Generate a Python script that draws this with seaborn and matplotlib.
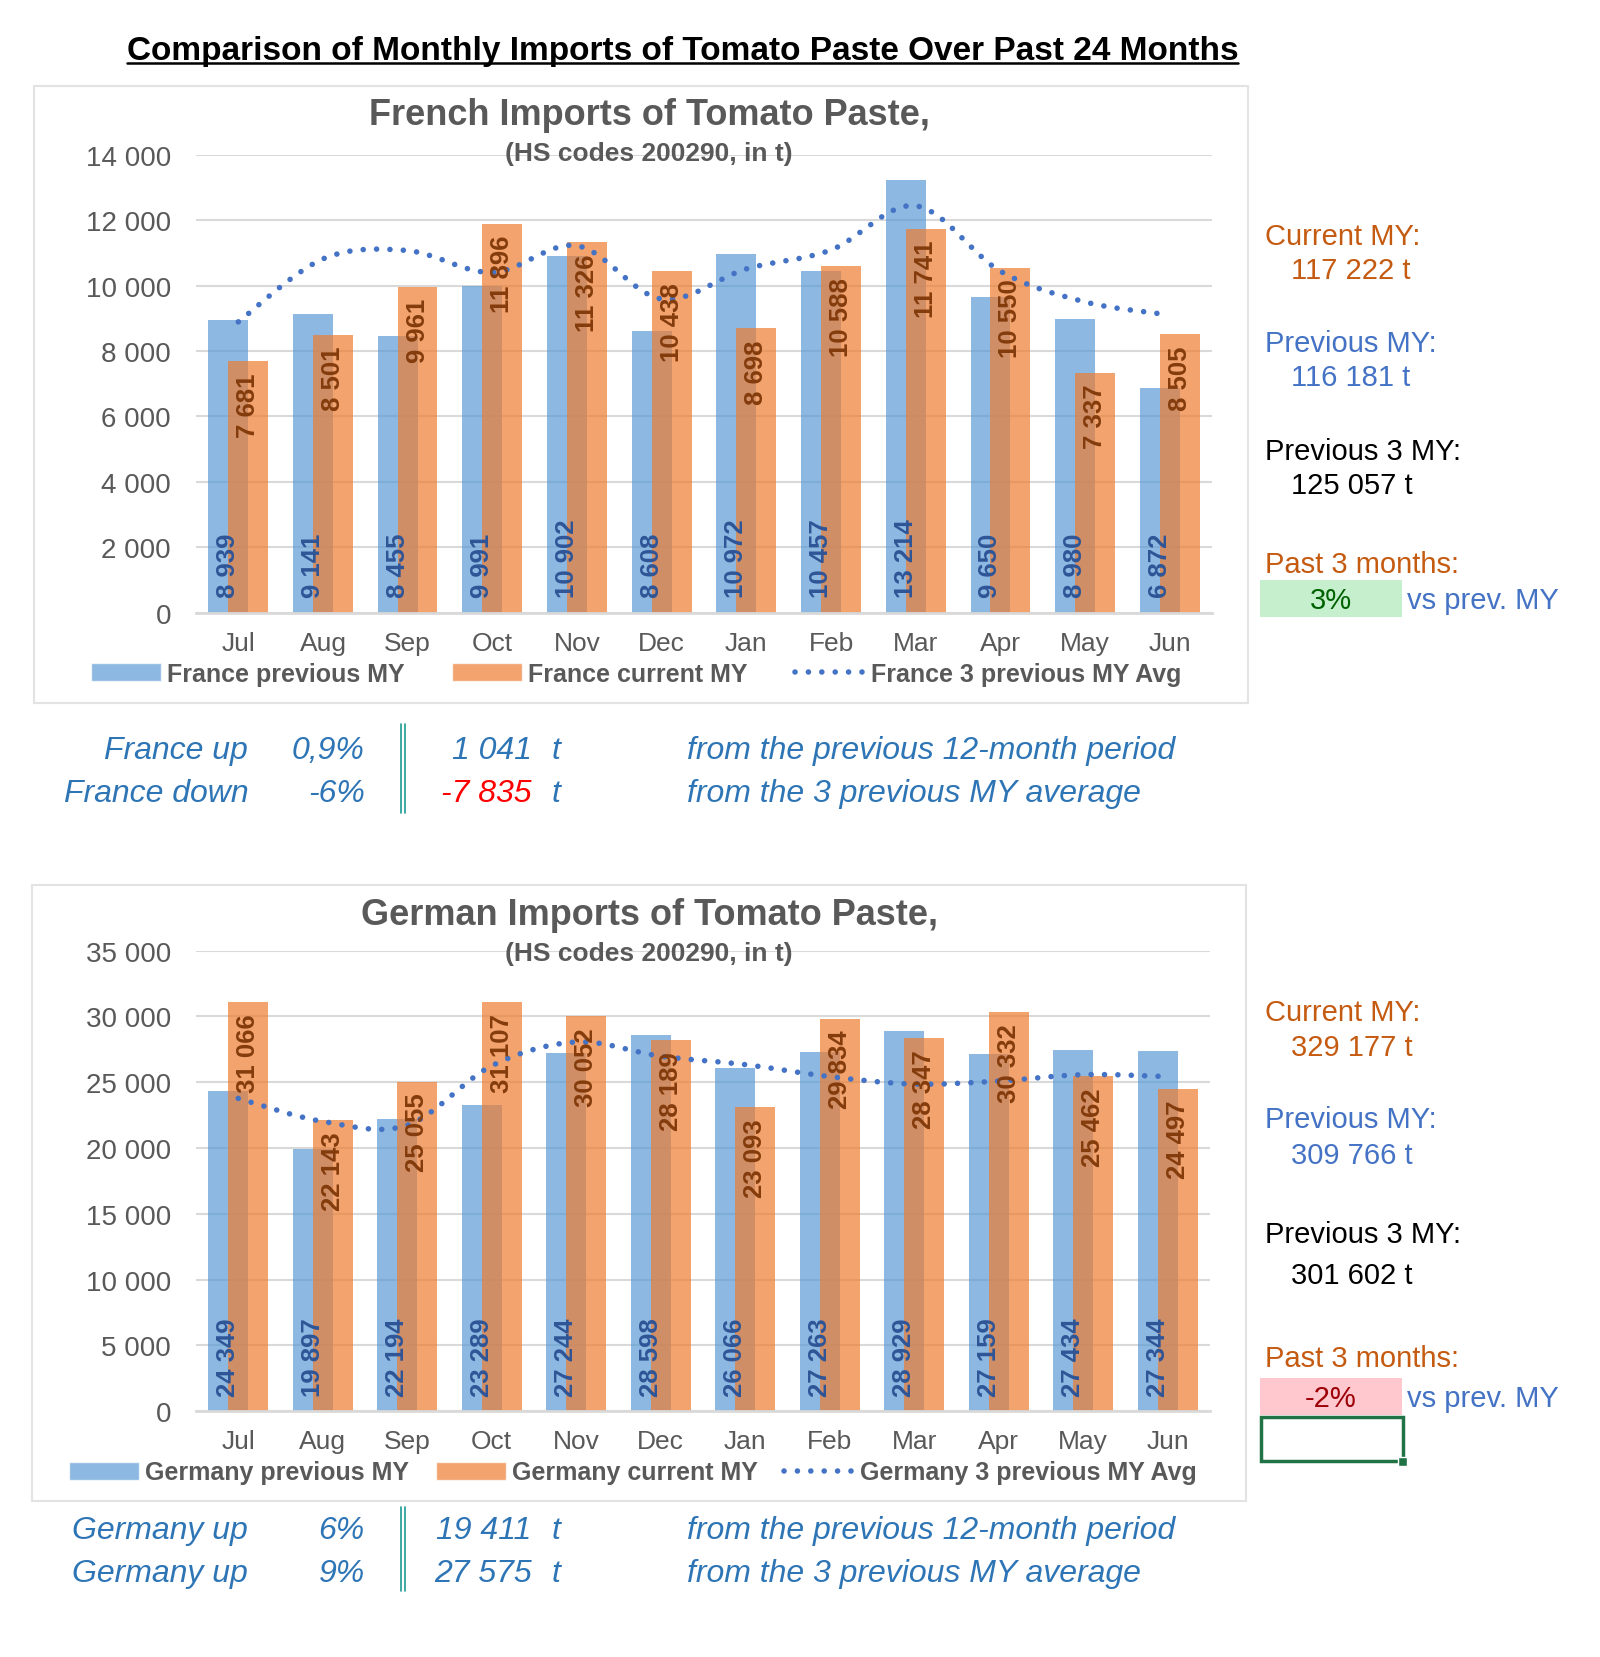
import numpy as np
import pandas as pd
import matplotlib.pyplot as plt
import seaborn as sns
from matplotlib.path import Path
from matplotlib.patches import PathPatch, Rectangle, Patch
from matplotlib.lines import Line2D

months = ['Jul', 'Aug', 'Sep', 'Oct', 'Nov', 'Dec', 'Jan', 'Feb', 'Mar', 'Apr', 'May', 'Jun']

# France, t
fr_prev = [8939, 9141, 8455, 9991, 10902, 8608, 10972, 10457, 13214, 9650, 8980, 6872]
fr_curr = [7681, 8501, 9961, 11896, 11326, 10438, 8698, 10588, 11741, 10550, 7337, 8505]
fr_avg3 = [8890, 10816, 11071, 10400, 11220, 9590, 10510, 11090, 12440, 10440, 9500, 9100]

# Germany, t
de_prev = [24349, 19897, 22194, 23289, 27244, 28598, 26066, 27263, 28929, 27159, 27434, 27344]
de_curr = [31066, 22143, 25055, 31107, 30052, 28189, 23093, 29834, 28347, 30332, 25462, 24497]
de_avg3 = [23770, 22020, 21730, 26250, 28060, 26980, 26340, 25430, 24860, 25090, 25580, 25430]

# side summaries
fr_side = ['117 222 t', '116 181 t', '125 057 t', '3%']
de_side = ['329 177 t', '309 766 t', '301 602 t', '-2%']
fr_notes = [('France up', '0,9%', '1 041', 'from the previous 12-month period'),
            ('France down', '-6%', '-7 835', 'from the 3 previous MY average')]
de_notes = [('Germany up', '6%', '19 411', 'from the previous 12-month period'),
            ('Germany up', '9%', '27 575', 'from the 3 previous MY average')]

BLUE = '#5B9BD5'
ORANGE = '#ED7D31'
LINE = '#4472C4'
GRAY = '#595959'
GRID = '#D9D9D9'
TXT_OR = '#C55A11'
TXT_BL = '#4472C4'
NOTE = '#2E75B6'
SHIFT = 0.1175
DOTS = (0, (0.01, 2.4))

sns.set_theme(style='white')
plt.rcParams['font.family'] = ['Liberation Sans', 'DejaVu Sans']

W, H = 1600, 1658
K = 1.005
fig = plt.figure(figsize=(16, 16.58), dpi=100)


def fx(x):
    return x * K / W


def fy(y):
    return 1 - y * K / H


def fh(h):
    return h * K / H


def fmt(v):
    return f'{v:,.0f}'.replace(',', ' ')


def smooth_line(ax, ys):
    # Bezier through the points, like the smoothed line option
    xs = list(range(len(ys)))
    n = len(xs)
    verts = [(xs[0], ys[0])]
    codes = [Path.MOVETO]
    for i in range(n - 1):
        a = max(i - 1, 0)
        b = min(i + 2, n - 1)
        c1 = (xs[i] + (xs[i + 1] - xs[a]) / 6, ys[i] + (ys[i + 1] - ys[a]) / 6)
        c2 = (xs[i + 1] - (xs[b] - xs[i]) / 6, ys[i + 1] - (ys[b] - ys[i]) / 6)
        verts += [c1, c2, (xs[i + 1], ys[i + 1])]
        codes += [Path.CURVE4] * 3
    patch = PathPatch(Path(verts, codes), fill=False, edgecolor=LINE, lw=4,
                      linestyle=DOTS, capstyle='round', zorder=5)
    ax.add_patch(patch)


def draw_chart(box, prev, curr, avg3, ymax, step, name, title, title_y,
               legend_y, legend_x, colsp):
    x0, y0, x1, y1 = box
    ax = fig.add_axes([fx(x0), fy(y1), fx(x1 - x0), fh(y1 - y0)])
    df = pd.DataFrame({'month': months, 'prev': prev, 'curr': curr})
    sns.barplot(data=df, x='month', y='prev', color=BLUE, alpha=0.7, width=0.47,
                saturation=1, errorbar=None, ax=ax)
    n0 = len(ax.patches)
    sns.barplot(data=df, x='month', y='curr', color=ORANGE, alpha=0.7, width=0.47,
                saturation=1, errorbar=None, ax=ax)
    for i, p in enumerate(ax.patches):
        p.set_x(p.get_x() + (-SHIFT if i < n0 else SHIFT))
        p.set_linewidth(0)

    for i, v in enumerate(prev):
        ax.annotate(fmt(v), (i - SHIFT, 0), xytext=(0, 11), textcoords='offset points',
                    rotation=90, ha='center', va='bottom', fontsize=18.5,
                    fontweight='bold', color='#2F5597', zorder=6)
    for i, v in enumerate(curr):
        ax.annotate(fmt(v), (i + SHIFT, v), xytext=(0, -8), textcoords='offset points',
                    rotation=90, ha='center', va='top', fontsize=18.5,
                    fontweight='bold', color='#843C0C', zorder=6)

    smooth_line(ax, avg3)

    ax.set_xlim(-0.5, 11.5)
    ax.set_ylim(0, ymax)
    ticks = list(range(0, ymax + 1, step))
    ax.set_yticks(ticks)
    ax.set_yticklabels([fmt(t) for t in ticks])
    ax.set_xlabel('')
    ax.set_ylabel('')
    ax.yaxis.grid(True, color=GRID, lw=1.5)
    ax.set_axisbelow(True)
    for s in ['left', 'right', 'top']:
        ax.spines[s].set_visible(False)
    ax.spines['bottom'].set_color(GRID)
    ax.spines['bottom'].set_linewidth(2)
    ax.tick_params(axis='y', length=0, pad=18, labelsize=20, labelcolor=GRAY)
    ax.tick_params(axis='x', length=0, pad=13, labelsize=19, labelcolor=GRAY)

    handles = [Patch(facecolor=BLUE, alpha=0.7),
               Patch(facecolor=ORANGE, alpha=0.7),
               Line2D([], [], color=LINE, lw=4, linestyle=DOTS, dash_capstyle='round')]
    labels = [f'{name} previous MY', f'{name} current MY', f'{name} 3 previous MY Avg']
    fig.legend(handles, labels, loc='center', bbox_to_anchor=(fx(legend_x), fy(legend_y)),
               ncol=3, frameon=False, handlelength=2.8, handleheight=0.72,
               handletextpad=0.25, columnspacing=colsp,
               prop={'weight': 'bold', 'size': 18}, labelcolor=GRAY)

    fig.text(fx(646), fy(title_y), title, ha='center', va='center', fontsize=26,
             fontweight='bold', color=GRAY)
    fig.text(fx(646), fy(title_y + 38), '(HS codes 200290, in t)', ha='center',
             va='center', fontsize=19, fontweight='bold', color=GRAY)
    return ax


def side_panel(ytop, vals, good, offs, box_dy):
    labels = ['Current MY:', vals[0], 'Previous MY:', vals[1],
              'Previous 3 MY:', vals[2], 'Past 3 months:']
    colors = [TXT_OR, TXT_OR, TXT_BL, TXT_BL, 'black', 'black', TXT_OR]
    for txt, col, dy in zip(labels, colors, offs):
        x = 1259 if txt.endswith(':') else 1285
        fig.text(fx(x), fy(ytop + dy), txt, ha='left', va='center', fontsize=21, color=col)
    by = ytop + box_dy
    face, tcol = ('#C6EFCE', '#006100') if good else ('#FFC7CE', '#9C0006')
    fig.add_artist(Rectangle((fx(1254), fy(by + 37)), fx(141), fh(37), facecolor=face,
                             edgecolor='none', transform=fig.transFigure))
    fig.text(fx(1324), fy(by + 20), vals[3], ha='center', va='center', fontsize=21, color=tcol)
    fig.text(fx(1400), fy(by + 20), 'vs prev. MY', ha='left', va='center', fontsize=21,
             color=TXT_BL)


def notes(ytop, rows, line_y):
    for k, (who, pct, amt, desc) in enumerate(rows):
        y = fy(ytop + 43 * k)
        kw = dict(va='center', fontsize=23, style='italic', color=NOTE)
        fig.text(fx(247), y, who, ha='right', **kw)
        fig.text(fx(363), y, pct, ha='right', **kw)
        amt_col = '#FF0000' if amt.startswith('-') else NOTE
        fig.text(fx(529), y, amt, ha='right', **{**kw, 'color': amt_col})
        fig.text(fx(549), y, 't', ha='left', **kw)
        fig.text(fx(684), y, desc, ha='left', **kw)
    for dx in (-2, 2):
        fig.add_artist(Line2D([fx(401 + dx)] * 2, [fy(line_y[0]), fy(line_y[1])],
                              color='#1E9A92', lw=1.2, transform=fig.transFigure))


# page title with underline
t = fig.text(fx(679), fy(60), 'Comparison of Monthly Imports of Tomato Paste Over Past 24 Months',
             ha='center', va='baseline', fontsize=24, fontweight='bold', color='black')

# chart frames
for bx in [(34, 87, 1242, 700), (32, 882, 1240, 1495)]:
    fig.add_artist(Rectangle((fx(bx[0]), fy(bx[3])), fx(bx[2] - bx[0]), fh(bx[3] - bx[1]),
                             facecolor='none', edgecolor='#E3E3E3', lw=1.5,
                             transform=fig.transFigure))

draw_chart((195, 155, 1206, 610.5), fr_prev, fr_curr, fr_avg3, 14000, 2000, 'France',
           'French Imports of Tomato Paste,', 115, 671.5, 633, 1.9)
draw_chart((195, 947, 1204, 1405), de_prev, de_curr, de_avg3, 35000, 5000, 'Germany',
           'German Imports of Tomato Paste,', 911, 1466, 630, 1.05)

side_panel(236, fr_side, True, (0, 34, 106, 140, 214, 248, 326), 342)
side_panel(1008, de_side, False, (0, 35, 106, 142, 221, 262, 344), 364)

# empty selected cell under the German figures
fig.add_artist(Rectangle((fx(1255), fy(1455)), fx(141), fh(44), facecolor='none',
                         edgecolor='#217346', lw=2.5, transform=fig.transFigure))
fig.add_artist(Rectangle((fx(1391), fy(1460)), fx(9), fh(9), facecolor='#217346',
                         edgecolor='white', lw=1, transform=fig.transFigure))

notes(747, fr_notes, (721, 810))
notes(1523, de_notes, (1500, 1584))

fig.canvas.draw()
bb = t.get_window_extent().transformed(fig.transFigure.inverted())
fig.add_artist(Line2D([bb.x0, bb.x1], [fy(64)] * 2, color='black', lw=1.8,
                      transform=fig.transFigure))

fig.savefig('out.png', dpi=100, facecolor='white')
